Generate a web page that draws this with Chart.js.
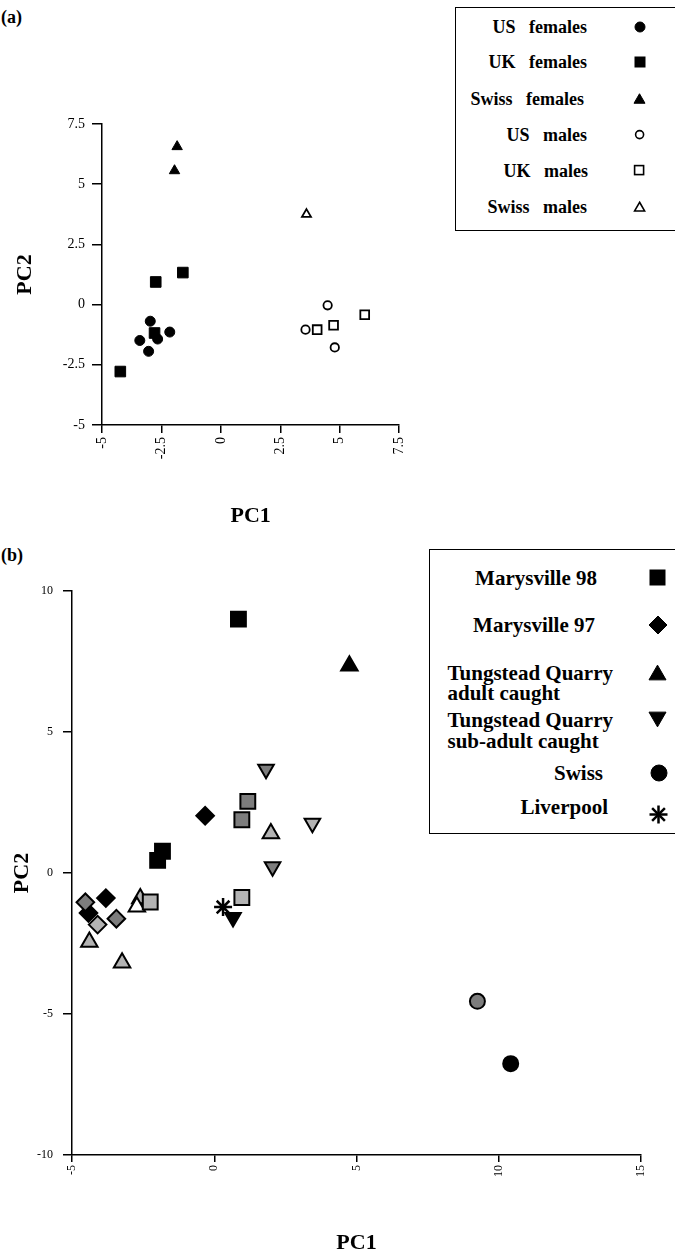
<!DOCTYPE html>
<html>
<head>
<meta charset="utf-8">
<title>PC1 / PC2 scatter</title>
<script src="https://cdn.jsdelivr.net/npm/chart.js@4.4.1/dist/chart.umd.min.js"></script>
<style>
  html, body { margin: 0; padding: 0; background: #fff; }
  body { position: relative; width: 675px; height: 1258px; overflow: hidden; font-family: "Liberation Serif", "Times New Roman", serif; color: #000; }
  .wrap { position: absolute; }
  .tag { position: absolute; left: 1px; font-weight: bold; font-size: 18px; line-height: 1; }
  .legend { position: absolute; background: #fff; border: 1.5px solid #000; border-right: 0; box-sizing: border-box; }
  .legend .txt { position: absolute; font-weight: bold; white-space: nowrap; transform: translateY(-50%); }
  .legend svg { position: absolute; }
  #legendA .txt { font-size: 18px; line-height: 20px; word-spacing: 9px; }
  #legendB .txt { font-size: 21px; line-height: 20px; }
</style>
</head>
<body>
<div class="tag" style="top:8px">(a)</div>
<div class="tag" style="top:546px">(b)</div>
<div class="wrap" style="left:0;top:0;width:420px;height:540px"><canvas id="chartA"></canvas></div>
<div class="wrap" style="left:0;top:560px;width:675px;height:698px"><canvas id="chartB"></canvas></div>
<div class="legend" id="legendA" style="left:455px;top:7px;width:220px;height:224px"></div>
<div class="legend" id="legendB" style="left:429px;top:549px;width:246px;height:285px"></div>
<script>
// ---- panel (a)
const ticksA = [-5, -2.5, 0, 2.5, 5, 7.5];

const usFemalesX = [-2.97, -3.41, -3.04, -2.66, -2.15];
const usFemalesY = [-0.69, -1.49, -1.94, -1.43, -1.14];
const ukFemalesX = [-2.74, -1.60, -2.79, -4.23];
const ukFemalesY = [0.94, 1.33, -1.18, -2.78];
const swissFemalesX = [-1.84, -1.95];
const swissFemalesY = [6.56, 5.56];
const usMalesX = [4.49, 3.56, 4.79];
const usMalesY = [-0.03, -1.04, -1.78];
const ukMalesX = [4.05, 4.74, 6.05];
const ukMalesY = [-1.04, -0.86, -0.42];
const swissMalesX = [3.60];
const swissMalesY = [3.75];

// ---- panel (b)
const ticksBX = [-5, 0, 5, 10, 15];
const ticksBY = [-10, -5, 0, 5, 10];

const mary98BlackX = [0.85, -1.82, -1.99];
const mary98BlackY = [9.0, 0.77, 0.45];
const mary98DarkX = [1.18, 0.97];
const mary98DarkY = [2.54, 1.89];
const mary98LightX = [0.97, -2.25];
const mary98LightY = [-0.87, -1.03];

const mary97BlackX = [-0.32, -3.81, -4.42];
const mary97BlackY = [2.03, -0.89, -1.42];
const mary97DarkX = [-4.53, -3.44];
const mary97DarkY = [-1.04, -1.62];
const mary97LightX = [-4.10];
const mary97LightY = [-1.83];

const tqAdultBlackX = [4.75];
const tqAdultBlackY = [7.35];
const tqAdultLightX = [1.99, -2.60, -4.39, -3.24];
const tqAdultLightY = [1.40, -0.90, -2.45, -3.18];
const tqAdultWhiteX = [-2.72];
const tqAdultWhiteY = [-1.20];

const tqSubBlackX = [0.66];
const tqSubBlackY = [-1.58];
const tqSubDarkX = [1.82, 2.05];
const tqSubDarkY = [3.68, 0.22];
const tqSubLightX = [3.45];
const tqSubLightY = [1.76];

const swissBlackX = [10.42];
const swissBlackY = [-6.76];
const swissDarkX = [9.25];
const swissDarkY = [-4.55];

const liverpoolX = [0.31];
const liverpoolY = [-1.21];

const BLACK = '#000000', DARK = '#7d7d7d', LIGHT = '#b3b3b3', WHITE = '#ffffff';

function pts(xs, ys) {
    return xs.map((x, i) => ({ x: x, y: ys[i] }));
}

function series(label, xs, ys, style, radius, fill, bw) {
    return {
        label: label,
        data: pts(xs, ys),
        pointStyle: style,
        pointRadius: radius,
        pointHoverRadius: radius,
        backgroundColor: fill,
        borderColor: '#000',
        borderWidth: bw,
        showLine: false,
        clip: false
    };
}

// axis with fixed thickness so the plot area sits where the figure has it
function axis(o) {
    return {
        type: 'linear',
        min: o.ticks[0],
        max: o.ticks[o.ticks.length - 1],
        afterBuildTicks: function (s) { s.ticks = o.ticks.map(v => ({ value: v })); },
        afterFit: function (s) {
            if (s.isHorizontal()) s.height = o.size; else s.width = o.size;
        },
        ticks: {
            color: '#000',
            font: { family: 'Liberation Serif', size: o.tickSize },
            padding: o.pad,
            autoSkip: false,
            minRotation: o.rot,
            maxRotation: o.rot
        },
        grid: { drawOnChartArea: false, drawTicks: true, tickLength: o.tickLen, color: '#000', lineWidth: 1.5 },
        border: { display: true, color: '#000', width: 1.5 },
        title: {
            display: true,
            text: o.title,
            color: '#000',
            font: { family: 'Liberation Serif', size: 22, weight: 'bold' },
            padding: o.titlePad
        }
    };
}

const common = {
    responsive: true,
    maintainAspectRatio: false,
    animation: false,
    events: [],
    plugins: { legend: { display: false }, tooltip: { enabled: false } }
};

new Chart(document.getElementById('chartA'), {
    type: 'scatter',
    data: {
        datasets: [
            series('US females', usFemalesX, usFemalesY, 'circle', 5, BLACK, 1),
            series('UK females', ukFemalesX, ukFemalesY, 'rect', 7.5, BLACK, 1),
            series('Swiss females', swissFemalesX, swissFemalesY, 'triangle', 6, BLACK, 1),
            series('US males', usMalesX, usMalesY, 'circle', 4.2, WHITE, 1.8),
            series('UK males', ukMalesX, ukMalesY, 'rect', 6.2, WHITE, 1.8),
            series('Swiss males', swissMalesX, swissMalesY, 'triangle', 5.2, WHITE, 1.8)
        ]
    },
    options: Object.assign({}, common, {
        layout: { padding: { top: 124, right: 15, bottom: 0, left: 0 } },
        scales: {
            x: axis({ ticks: ticksA, size: 115, tickSize: 14, pad: 4, rot: 90, tickLen: 8, title: 'PC1', titlePad: { top: 0, bottom: 10 } }),
            y: axis({ ticks: ticksA, size: 102, tickSize: 14, pad: 7, rot: 0, tickLen: 10, title: 'PC2', titlePad: { top: 12, bottom: 0 } })
        }
    })
});

new Chart(document.getElementById('chartB'), {
    type: 'scatter',
    data: {
        datasets: [
            series('Marysville 98', mary98DarkX, mary98DarkY, 'rect', 10.5, DARK, 2),
            series('Marysville 98', mary98LightX, mary98LightY, 'rect', 10.5, LIGHT, 2),
            series('Marysville 98', mary98BlackX, mary98BlackY, 'rect', 10.5, BLACK, 2),
            series('Marysville 97', mary97DarkX, mary97DarkY, 'rectRot', 8.8, DARK, 2),
            series('Marysville 97', mary97LightX, mary97LightY, 'rectRot', 8.8, LIGHT, 2),
            series('Marysville 97', mary97BlackX, mary97BlackY, 'rectRot', 8.8, BLACK, 2),
            series('Tungstead Quarry adult caught', tqAdultWhiteX, tqAdultWhiteY, 'triangle', 9.5, WHITE, 2),
            series('Tungstead Quarry adult caught', tqAdultLightX, tqAdultLightY, 'triangle', 9.5, LIGHT, 2),
            series('Tungstead Quarry adult caught', tqAdultBlackX, tqAdultBlackY, 'triangle', 9.5, BLACK, 2),
            Object.assign(series('Tungstead Quarry sub-adult caught', tqSubDarkX, tqSubDarkY, 'triangle', 9, DARK, 2), { rotation: 180 }),
            Object.assign(series('Tungstead Quarry sub-adult caught', tqSubLightX, tqSubLightY, 'triangle', 9, LIGHT, 2), { rotation: 180 }),
            Object.assign(series('Tungstead Quarry sub-adult caught', tqSubBlackX, tqSubBlackY, 'triangle', 9, BLACK, 2), { rotation: 180 }),
            series('Swiss', swissDarkX, swissDarkY, 'circle', 7.5, DARK, 2),
            series('Swiss', swissBlackX, swissBlackY, 'circle', 7.5, BLACK, 2),
            series('Liverpool', liverpoolX, liverpoolY, 'star', 9, BLACK, 2.5)
        ]
    },
    options: Object.assign({}, common, {
        layout: { padding: { top: 31, right: 34, bottom: 0, left: 0 } },
        scales: {
            x: axis({ ticks: ticksBX, size: 103, tickSize: 12, pad: 3, rot: 90, tickLen: 7, title: 'PC1', titlePad: { top: 0, bottom: 1 } }),
            y: axis({ ticks: ticksBY, size: 72, tickSize: 12, pad: 10, rot: 0, tickLen: 9, title: 'PC2', titlePad: { top: 9, bottom: 0 } })
        }
    })
});

// ---- boxed legends (text on the left, symbol on the right)
function marker(shape, size, fill, sw) {
    const w = size + sw * 2 + 2, c = w / 2, h = size / 2;
    const st = 'fill="' + fill + '" stroke="#000" stroke-width="' + sw + '"';
    let body;
    if (shape === 'circle') {
        body = '<circle cx="' + c + '" cy="' + c + '" r="' + h + '" ' + st + '/>';
    } else if (shape === 'rect') {
        body = '<rect x="' + (c - h) + '" y="' + (c - h) + '" width="' + size + '" height="' + size + '" ' + st + '/>';
    } else if (shape === 'diamond') {
        body = '<polygon points="' + c + ',' + (c - h) + ' ' + (c + h) + ',' + c + ' ' + c + ',' + (c + h) + ' ' + (c - h) + ',' + c + '" ' + st + '/>';
    } else if (shape === 'up' || shape === 'down') {
        const t = size * 0.866 / 2, s = shape === 'up' ? 1 : -1;
        body = '<polygon points="' + c + ',' + (c - s * t) + ' ' + (c + h) + ',' + (c + s * t) + ' ' + (c - h) + ',' + (c + s * t) + '" ' + st + '/>';
    } else {
        body = '';
        for (let k = 0; k < 4; k++) {
            const a = k * Math.PI / 4, dx = Math.cos(a) * h, dy = Math.sin(a) * h;
            body += '<line x1="' + (c - dx) + '" y1="' + (c - dy) + '" x2="' + (c + dx) + '" y2="' + (c + dy) + '" stroke="#000" stroke-width="' + sw + '"/>';
        }
    }
    return { svg: '<svg width="' + w + '" height="' + w + '" xmlns="http://www.w3.org/2000/svg">' + body + '</svg>', w: w };
}

function buildLegend(id, box, rows) {
    const el = document.getElementById(id);
    rows.forEach(r => {
        const lines = r.text.split('\n');
        if (lines.length === 1) {
            const t = document.createElement('div');
            t.className = 'txt';
            t.textContent = r.text;
            t.style.right = (675 - r.right) + 'px';
            t.style.top = (r.y - box.top - 1.5) + 'px';
            el.appendChild(t);
        } else {
            lines.forEach((line, i) => {
                const t = document.createElement('div');
                t.className = 'txt';
                t.textContent = line;
                t.style.left = (r.left - box.left - 1.5) + 'px';
                t.style.top = (r.y - box.top - 1.5 + i * r.gap) + 'px';
                el.appendChild(t);
            });
        }
        const m = marker(r.shape, r.size, r.fill, r.sw);
        const holder = document.createElement('div');
        holder.innerHTML = m.svg;
        const svg = holder.firstChild;
        svg.style.left = (r.mx - box.left - 1.5 - m.w / 2) + 'px';
        svg.style.top = (r.my - box.top - 1.5 - m.w / 2) + 'px';
        el.appendChild(svg);
    });
}

buildLegend('legendA', { left: 455, top: 7 }, [
    { text: 'US  females', right: 587, y: 27, shape: 'circle', size: 10, fill: BLACK, sw: 1, mx: 640, my: 27 },
    { text: 'UK  females', right: 587, y: 62, shape: 'rect', size: 10, fill: BLACK, sw: 1, mx: 640, my: 62 },
    { text: 'Swiss  females', right: 584, y: 99, shape: 'up', size: 11, fill: BLACK, sw: 1, mx: 640, my: 99 },
    { text: 'US  males', right: 587, y: 135, shape: 'circle', size: 8, fill: WHITE, sw: 1.6, mx: 640, my: 135 },
    { text: 'UK  males', right: 588, y: 171, shape: 'rect', size: 9, fill: WHITE, sw: 1.6, mx: 640, my: 171 },
    { text: 'Swiss  males', right: 587, y: 207, shape: 'up', size: 10, fill: WHITE, sw: 1.6, mx: 640, my: 207 }
]);

buildLegend('legendB', { left: 429, top: 549 }, [
    { text: 'Marysville 98', right: 597, y: 578, shape: 'rect', size: 15, fill: BLACK, sw: 1, mx: 658, my: 578 },
    { text: 'Marysville 97', right: 595, y: 625, shape: 'diamond', size: 18, fill: BLACK, sw: 1, mx: 658, my: 625 },
    { text: 'Tungstead Quarry\nadult caught', left: 448, gap: 20, y: 673, shape: 'up', size: 17, fill: BLACK, sw: 1, mx: 658, my: 673 },
    { text: 'Tungstead Quarry\nsub-adult caught', left: 448, gap: 21, y: 720, shape: 'down', size: 17, fill: BLACK, sw: 1, mx: 658, my: 720 },
    { text: 'Swiss', right: 603, y: 773, shape: 'circle', size: 16, fill: BLACK, sw: 1, mx: 659, my: 773 },
    { text: 'Liverpool', right: 608, y: 807, shape: 'star', size: 18, fill: BLACK, sw: 2.5, mx: 659, my: 815 }
]);
</script>
</body>
</html>
